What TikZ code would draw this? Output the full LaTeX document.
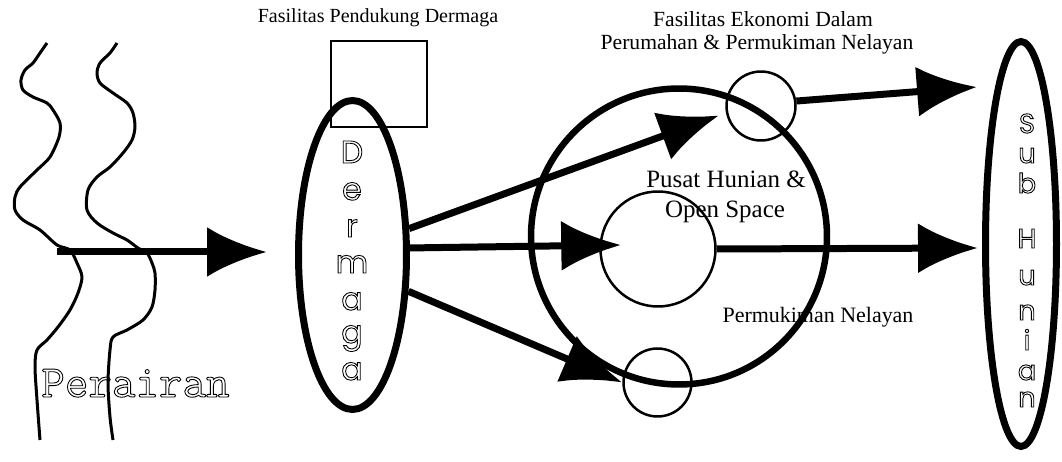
\documentclass[tikz,border=0pt]{standalone}
\usepackage{fontspec}
\setmainfont{Liberation Serif}
\newfontfamily\letfam{Poppins}
\usetikzlibrary{arrows.meta,shapes.geometric}
\newcommand{\hollow}[1]{\special{pdf:literal direct 1 Tr 0.5 w}#1\special{pdf:literal direct 0 Tr}}
\begin{document}
\begin{tikzpicture}[x=0.02cm,y=-0.02cm,
  arr/.style={line width=0.14cm,-{Latex[length=1.2cm,width=1.0cm]}},
  bigring/.style={draw,line width=0.13cm,inner sep=0pt},
  thinring/.style={draw,circle,line width=0.05cm,inner sep=0pt},
  wave/.style={line width=0.06cm,line join=round},
  lbl/.style={anchor=base,inner sep=0pt,font=\fontsize{12.3pt}{14pt}\selectfont},
  dlet/.style={anchor=base,inner sep=0pt,font=\letfam\fontsize{18pt}{18pt}\selectfont},
  slet/.style={anchor=base,inner sep=0pt,font=\letfam\fontsize{15.5pt}{16pt}\selectfont}]
\useasboundingbox (0,0) rectangle (1062,462);
% water lines
\draw[wave] plot[smooth,tension=0.5] coordinates {(47,43) (40,53) (33,63) (25,70) (21,80) (23,90) (33,97) (47,103) (53,110) (60,123) (59,137) (50,157) (37,170) (20,187) (15,197) (15,210) (23,220) (40,230) (57,245) (70,250) (77,263) (82,277) (78,293) (70,310) (58,327) (47,340) (37,350) (35,367) (37,400) (40,440)};
\draw[wave] plot[smooth,tension=0.5] coordinates {(117,43) (110,53) (100,63) (97,73) (100,83) (113,93) (127,103) (133,113) (135,127) (132,140) (123,153) (110,167) (97,177) (88,190) (87,210) (97,223) (113,233) (127,240) (138,248) (147,253) (152,263) (155,273) (155,290) (152,307) (143,320) (127,330) (113,337) (110,350) (108,383) (110,417) (113,440)};
\node[anchor=base west,inner sep=0pt,font=\ttfamily\fontsize{26pt}{28pt}\selectfont] (perairan) at (41,397) {\hollow{Perairan}};
% box and dermaga
\node[draw,rectangle,line width=0.05cm,minimum width=1.92cm,minimum height=1.72cm,inner sep=0pt] (box) at (379,84) {};
\node[lbl,font=\fontsize{11.4pt}{13pt}\selectfont] (lblbox) at (378,23) {Fasilitas Pendukung Dermaga};
\node[bigring,ellipse,line width=0.14cm,minimum width=2.16cm,minimum height=6.18cm] (dermaga) at (352.5,255) {};
\foreach \l/\yy [count=\i] in {D/163,e/200,r/237,m/273,a/310,g/343,a/380}
  \node[dlet] (dl\i) at (352,\yy) {\hollow{\l}};
% central settlement
\node[bigring,circle,minimum size=5.92cm] (ring) at (679,236.5) {};
\node[thinring,minimum size=2.3cm] (inner) at (658,249) {};
\node[thinring,minimum size=1.38cm] (ctop) at (761,106) {};
\node[thinring,minimum size=1.36cm] (cbot) at (657.5,382.5) {};
\node[lbl] (lbleko1) at (763,27) {Fasilitas Ekonomi Dalam};
\node[lbl] (lbleko2) at (757,50) {Perumahan \& Permukiman Nelayan};
\node[lbl,font=\fontsize{14.2pt}{16pt}\selectfont] (lblpus1) at (726,188) {Pusat Hunian \&};
\node[lbl,font=\fontsize{14.2pt}{16pt}\selectfont] (lblpus2) at (725,218) {Open Space};
\node[lbl,font=\fontsize{12.5pt}{14pt}\selectfont] (lblperm) at (818,323) {Permukiman Nelayan};
% sub hunian
\node[bigring,ellipse,line width=0.14cm,minimum width=1.42cm,minimum height=8.1cm] (subh) at (1021,244) {};
\foreach \l/\yy [count=\i] in {S/133,u/163,b/193,H/248,u/285,n/320,i/350,a/380,n/407}
  \node[slet] (sl\i) at (1027,\yy) {\hollow{\l}};
% arrows
\coordinate (sea) at (57,252);
\draw[arr] (sea) -- ([shift={(-28,-3)}]dermaga.west);
\draw[arr] (dermaga.25) -- ([shift={(-7,2)}]ctop.192);
\draw[arr] (dermaga.7.5) -- ([shift={(22,-4)}]inner.west);
\draw[arr] (dermaga.-33) -- (cbot.west);
\draw[arr] (ctop.8) -- ([shift={(-5,-157)}]subh.west);
\draw[arr] (inner.east) -- ([shift={(-4,4)}]subh.west);
\end{tikzpicture}
\end{document}
